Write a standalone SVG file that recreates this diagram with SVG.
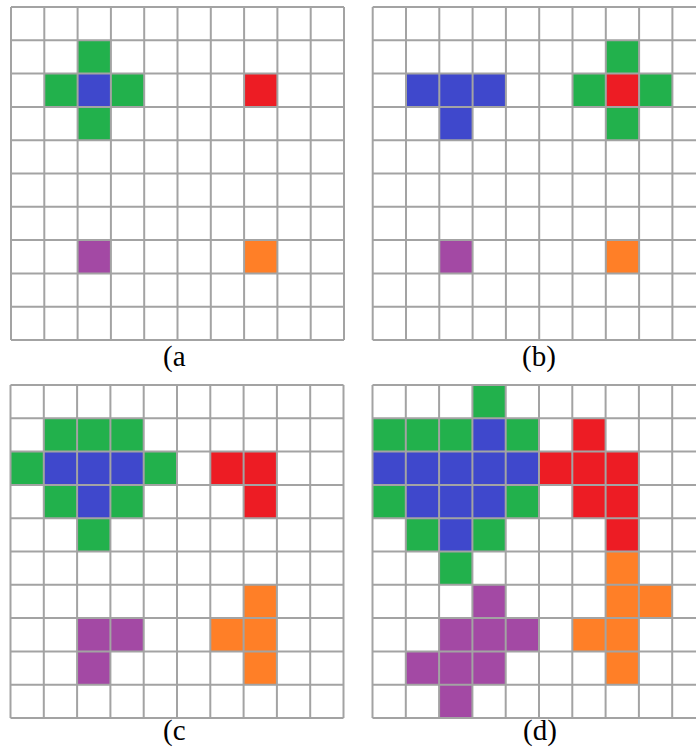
<svg xmlns="http://www.w3.org/2000/svg" xmlns:xlink="http://www.w3.org/1999/xlink" width="696" height="751" viewBox="0 0 696 751">
<style>
.g{fill:#22b14c}.b{fill:#3f48cc}.r{fill:#ed1c24}.p{fill:#a349a4}.o{fill:#ff7f27}
.lbl{font-family:"Liberation Serif","Times New Roman",serif;font-size:29px;fill:#000}
</style>
<defs>
<path id="grid" fill="none" stroke="#a3a3a3" stroke-width="2" d="M0,0V333M33.3,0V333M66.6,0V333M99.9,0V333M133.2,0V333M166.5,0V333M199.8,0V333M233.1,0V333M266.4,0V333M299.7,0V333M333,0V333M0,0H333M0,33.3H333M0,66.6H333M0,99.9H333M0,133.2H333M0,166.5H333M0,199.8H333M0,233.1H333M0,266.4H333M0,299.7H333M0,333H333"/>
<rect id="c" width="33.3" height="33.3"/>
</defs>
<rect width="696" height="751" fill="#fff"/>
<g id="panel-a" transform="translate(11,7)">
<use xlink:href="#c" class="g" x="66.6" y="33.3"/>
<use xlink:href="#c" class="g" x="33.3" y="66.6"/>
<use xlink:href="#c" class="b" x="66.6" y="66.6"/>
<use xlink:href="#c" class="g" x="99.9" y="66.6"/>
<use xlink:href="#c" class="g" x="66.6" y="99.9"/>
<use xlink:href="#c" class="r" x="233.1" y="66.6"/>
<use xlink:href="#c" class="p" x="66.6" y="233.1"/>
<use xlink:href="#c" class="o" x="233.1" y="233.1"/>
<use xlink:href="#grid"/>
</g>
<g id="panel-b" transform="translate(372.7,7)">
<use xlink:href="#c" class="b" x="33.3" y="66.6"/>
<use xlink:href="#c" class="b" x="66.6" y="66.6"/>
<use xlink:href="#c" class="b" x="99.9" y="66.6"/>
<use xlink:href="#c" class="b" x="66.6" y="99.9"/>
<use xlink:href="#c" class="g" x="233.1" y="33.3"/>
<use xlink:href="#c" class="g" x="199.8" y="66.6"/>
<use xlink:href="#c" class="r" x="233.1" y="66.6"/>
<use xlink:href="#c" class="g" x="266.4" y="66.6"/>
<use xlink:href="#c" class="g" x="233.1" y="99.9"/>
<use xlink:href="#c" class="p" x="66.6" y="233.1"/>
<use xlink:href="#c" class="o" x="233.1" y="233.1"/>
<use xlink:href="#grid"/>
</g>
<g id="panel-c" transform="translate(10.5,385)">
<use xlink:href="#c" class="g" x="33.3" y="33.3"/>
<use xlink:href="#c" class="g" x="66.6" y="33.3"/>
<use xlink:href="#c" class="g" x="99.9" y="33.3"/>
<use xlink:href="#c" class="g" x="0" y="66.6"/>
<use xlink:href="#c" class="b" x="33.3" y="66.6"/>
<use xlink:href="#c" class="b" x="66.6" y="66.6"/>
<use xlink:href="#c" class="b" x="99.9" y="66.6"/>
<use xlink:href="#c" class="g" x="133.2" y="66.6"/>
<use xlink:href="#c" class="g" x="33.3" y="99.9"/>
<use xlink:href="#c" class="b" x="66.6" y="99.9"/>
<use xlink:href="#c" class="g" x="99.9" y="99.9"/>
<use xlink:href="#c" class="g" x="66.6" y="133.2"/>
<use xlink:href="#c" class="r" x="199.8" y="66.6"/>
<use xlink:href="#c" class="r" x="233.1" y="66.6"/>
<use xlink:href="#c" class="r" x="233.1" y="99.9"/>
<use xlink:href="#c" class="o" x="233.1" y="199.8"/>
<use xlink:href="#c" class="o" x="199.8" y="233.1"/>
<use xlink:href="#c" class="o" x="233.1" y="233.1"/>
<use xlink:href="#c" class="o" x="233.1" y="266.4"/>
<use xlink:href="#c" class="p" x="66.6" y="233.1"/>
<use xlink:href="#c" class="p" x="99.9" y="233.1"/>
<use xlink:href="#c" class="p" x="66.6" y="266.4"/>
<use xlink:href="#grid"/>
</g>
<g id="panel-d" transform="translate(372.5,385)">
<use xlink:href="#c" class="g" x="99.9" y="0"/>
<use xlink:href="#c" class="g" x="0" y="33.3"/>
<use xlink:href="#c" class="g" x="33.3" y="33.3"/>
<use xlink:href="#c" class="g" x="66.6" y="33.3"/>
<use xlink:href="#c" class="b" x="99.9" y="33.3"/>
<use xlink:href="#c" class="g" x="133.2" y="33.3"/>
<use xlink:href="#c" class="r" x="199.8" y="33.3"/>
<use xlink:href="#c" class="b" x="0" y="66.6"/>
<use xlink:href="#c" class="b" x="33.3" y="66.6"/>
<use xlink:href="#c" class="b" x="66.6" y="66.6"/>
<use xlink:href="#c" class="b" x="99.9" y="66.6"/>
<use xlink:href="#c" class="b" x="133.2" y="66.6"/>
<use xlink:href="#c" class="r" x="166.5" y="66.6"/>
<use xlink:href="#c" class="r" x="199.8" y="66.6"/>
<use xlink:href="#c" class="r" x="233.1" y="66.6"/>
<use xlink:href="#c" class="g" x="0" y="99.9"/>
<use xlink:href="#c" class="b" x="33.3" y="99.9"/>
<use xlink:href="#c" class="b" x="66.6" y="99.9"/>
<use xlink:href="#c" class="b" x="99.9" y="99.9"/>
<use xlink:href="#c" class="g" x="133.2" y="99.9"/>
<use xlink:href="#c" class="r" x="199.8" y="99.9"/>
<use xlink:href="#c" class="r" x="233.1" y="99.9"/>
<use xlink:href="#c" class="g" x="33.3" y="133.2"/>
<use xlink:href="#c" class="b" x="66.6" y="133.2"/>
<use xlink:href="#c" class="g" x="99.9" y="133.2"/>
<use xlink:href="#c" class="r" x="233.1" y="133.2"/>
<use xlink:href="#c" class="g" x="66.6" y="166.5"/>
<use xlink:href="#c" class="o" x="233.1" y="166.5"/>
<use xlink:href="#c" class="p" x="99.9" y="199.8"/>
<use xlink:href="#c" class="o" x="233.1" y="199.8"/>
<use xlink:href="#c" class="o" x="266.4" y="199.8"/>
<use xlink:href="#c" class="p" x="66.6" y="233.1"/>
<use xlink:href="#c" class="p" x="99.9" y="233.1"/>
<use xlink:href="#c" class="p" x="133.2" y="233.1"/>
<use xlink:href="#c" class="o" x="199.8" y="233.1"/>
<use xlink:href="#c" class="o" x="233.1" y="233.1"/>
<use xlink:href="#c" class="p" x="33.3" y="266.4"/>
<use xlink:href="#c" class="p" x="66.6" y="266.4"/>
<use xlink:href="#c" class="p" x="99.9" y="266.4"/>
<use xlink:href="#c" class="o" x="233.1" y="266.4"/>
<use xlink:href="#c" class="p" x="66.6" y="299.7"/>
<use xlink:href="#grid"/>
</g>
<g id="labels">
<text class="lbl" x="163" y="366">(a</text>
<text class="lbl" x="522" y="366">(b)</text>
<text class="lbl" x="163" y="740">(c</text>
<text class="lbl" x="523" y="740">(d)</text>
</g>
</svg>
